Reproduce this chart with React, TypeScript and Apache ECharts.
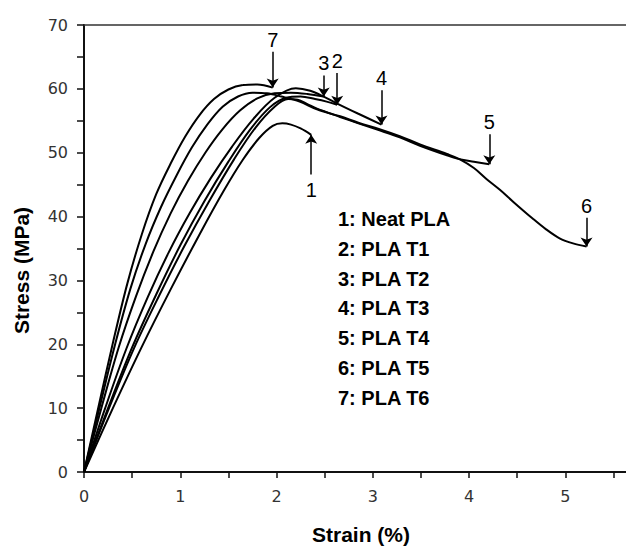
import React, { useEffect, useRef } from "react";
import * as echarts from "echarts";

// Series names (legend text block)
const seriesNames = [
  "1: Neat PLA",
  "2: PLA T1",
  "3: PLA T2",
  "4: PLA T3",
  "5: PLA T4",
  "6: PLA T5",
  "7: PLA T6",
];

// Stress–strain curves: [strain (%), stress (MPa)]
const curveNeatPLA = [
  [0, 0], [0.3, 10], [0.6, 19.6], [0.9, 28.6], [1.2, 37.2], [1.45, 44],
  [1.65, 48.9], [1.82, 52.3], [1.96, 54.2], [2.06, 54.6], [2.15, 54.4],
  [2.25, 53.8], [2.36, 52.8],
];
const curvePLAT1 = [
  [0, 0], [0.25, 10], [0.5, 19.5], [0.75, 27.8], [1.0, 35.5], [1.25, 42.4],
  [1.5, 48.6], [1.72, 53.5], [1.93, 57.1], [2.1, 58.6], [2.25, 58.8],
  [2.4, 58.4], [2.52, 58.0], [2.63, 57.5],
];
const curvePLAT2 = [
  [0, 0], [0.18, 10], [0.36, 19.5], [0.54, 27.5], [0.72, 34.5], [0.9, 40.5],
  [1.08, 45.6], [1.26, 50], [1.44, 53.7], [1.62, 56.6], [1.8, 58.5],
  [1.98, 59.3], [2.15, 59.4], [2.32, 59.2], [2.49, 58.8],
];
const curvePLAT3 = [
  [0, 0], [0.22, 10], [0.44, 19.3], [0.66, 27.3], [0.88, 34.4], [1.1, 40.6],
  [1.32, 46.1], [1.54, 51], [1.76, 55.3], [1.98, 58.6], [2.2, 60.1],
  [2.35, 59.7], [2.5, 58.7], [2.63, 57.7], [2.85, 56.1], [3.09, 54.4],
];
const curvePLAT4 = [
  [0, 0], [0.26, 10], [0.52, 19.4], [0.78, 27.6], [1.04, 35.3], [1.3, 42.4],
  [1.56, 49], [1.78, 53.9], [1.98, 57.2], [2.12, 58.4], [2.22, 58.3],
  [2.32, 57.6], [2.42, 56.9], [2.66, 55.6], [2.85, 54.6], [3.07, 53.5],
  [3.28, 52.4], [3.49, 51.1], [3.77, 49.6], [3.9, 49.0], [4.05, 48.6], [4.21, 48.2],
];
const curvePLAT5 = [
  [0, 0], [0.16, 10], [0.32, 19.8], [0.48, 28.6], [0.64, 35.7], [0.8, 41.5],
  [0.96, 46.4], [1.12, 50.8], [1.28, 54.4], [1.44, 57.2], [1.6, 58.8],
  [1.75, 59.4], [1.9, 59.3], [2.05, 58.8], [2.24, 58.0], [2.42, 56.8],
  [2.66, 55.7], [2.85, 54.7], [3.07, 53.7], [3.28, 52.6], [3.49, 51.3],
  [3.77, 49.8], [3.9, 49.0], [4.05, 47.6], [4.18, 45.9], [4.32, 44.2],
  [4.46, 42.3], [4.66, 39.7], [4.8, 38], [4.94, 36.6], [5.08, 35.8], [5.22, 35.3],
];
const curvePLAT6 = [
  [0, 0], [0.15, 10.2], [0.3, 20.2], [0.45, 29.5], [0.6, 37.2], [0.75, 43.5],
  [0.9, 48.3], [1.05, 52.5], [1.2, 55.9], [1.35, 58.4], [1.5, 59.9],
  [1.65, 60.6], [1.8, 60.7], [1.96, 60.2],
];

const curves = [
  curveNeatPLA, curvePLAT1, curvePLAT2, curvePLAT3, curvePLAT4, curvePLAT5, curvePLAT6,
];

// Break-point arrows: label and arrow length in MPa (negative = arrow from below)
const arrowLabels = ["1", "2", "3", "4", "5", "6", "7"];
const arrowLengths = [-6.2, 5.0, 3.3, 5.4, 4.7, 4.5, 5.6];

// Axes
const xMin = 0;
const xMax = 5.63;
const xInterval = 0.5;
const yMin = 0;
const yMax = 70;
const yInterval = 5;

const FONT = '"Liberation Sans", Arial, sans-serif';

export default function App() {
  const ref = useRef<HTMLDivElement>(null);

  useEffect(() => {
    if (!ref.current) return;
    const chart = echarts.init(ref.current, undefined, { renderer: "svg" });

    const series: any[] = curves.map((c, i) => {
      const end = c[c.length - 1];
      return {
        type: "line",
        name: seriesNames[i],
        data: c,
        xAxisIndex: 0,
        yAxisIndex: 0,
        showSymbol: false,
        symbol: "none",
        smooth: 0.35,
        lineStyle: { color: "#000", width: 2 },
        emphasis: { disabled: true },
        markLine: {
          silent: true,
          animation: false,
          symbol: ["none", "arrow"],
          symbolSize: 9,
          lineStyle: { color: "#000", width: 1.5, type: "solid" },
          label: {
            show: true,
            position: "start",
            formatter: arrowLabels[i],
            color: "#000",
            fontSize: 20,
            fontFamily: FONT,
            distance: arrowLengths[i] < 0 ? 6 : 2,
          },
          emphasis: { disabled: true },
          data: [
            [
              { coord: [end[0], end[1] + arrowLengths[i]] },
              { coord: [end[0], end[1]] },
            ],
          ],
        },
      };
    });

    chart.setOption({
      animation: false,
      grid: { left: 84, top: 25, right: 0, bottom: 75, containLabel: false },
      xAxis: [
        {
          type: "value",
          min: xMin,
          max: xMax,
          interval: xInterval,
          name: "Strain (%)",
          nameLocation: "middle",
          nameGap: 52,
          nameTextStyle: {
            fontFamily: FONT,
            fontWeight: "bold",
            fontSize: 21,
            color: "#000",
            padding: [0, 0, 0, 12],
          },
          axisLine: { show: true, lineStyle: { color: "#111", width: 2 } },
          axisTick: { show: true, length: 6, inside: false, lineStyle: { color: "#111", width: 1.5 } },
          axisLabel: {
            margin: 16,
            fontFamily: '"DejaVu Sans", sans-serif',
            fontSize: 16,
            color: "#333",
            showMaxLabel: false,
            formatter: (v: number) =>
              Math.abs(v - Math.round(v)) < 1e-6 ? String(Math.round(v)) : "",
          },
          splitLine: { show: false },
        },
        {
          type: "value",
          position: "top",
          min: xMin,
          max: xMax,
          axisLine: { show: true, onZero: false, lineStyle: { color: "#333", width: 1.5 } },
          axisTick: { show: false },
          axisLabel: { show: false },
          splitLine: { show: false },
        },
      ],
      yAxis: {
        type: "value",
        min: yMin,
        max: yMax,
        interval: yInterval,
        name: "Stress (MPa)",
        nameLocation: "middle",
        nameGap: 52,
        nameTextStyle: {
          fontFamily: FONT,
          fontWeight: "bold",
          fontSize: 21,
          color: "#000",
          padding: [0, 44, 0, 0],
        },
        axisLine: { show: true, lineStyle: { color: "#111", width: 2 } },
        axisTick: { show: true, length: 7, inside: false, lineStyle: { color: "#111", width: 1.5 } },
        axisLabel: {
          margin: 16,
          fontFamily: '"DejaVu Sans", sans-serif',
          fontSize: 16,
          color: "#333",
          formatter: (v: number) => (Math.round(v) % 10 === 0 ? String(Math.round(v)) : ""),
        },
        splitLine: { show: false },
      },
      graphic: [
        {
          type: "text",
          left: 338,
          top: 204,
          silent: true,
          style: {
            text: seriesNames.join("\n"),
            font: `bold 20px ${FONT}`,
            lineHeight: 29.8,
            fill: "#000",
          },
        },
      ],
      series,
    });

    return () => chart.dispose();
  }, []);

  return (
    <div
      ref={ref}
      style={{ position: "fixed", left: 0, top: 0, width: 626, height: 550, background: "#fff" }}
    />
  );
}
